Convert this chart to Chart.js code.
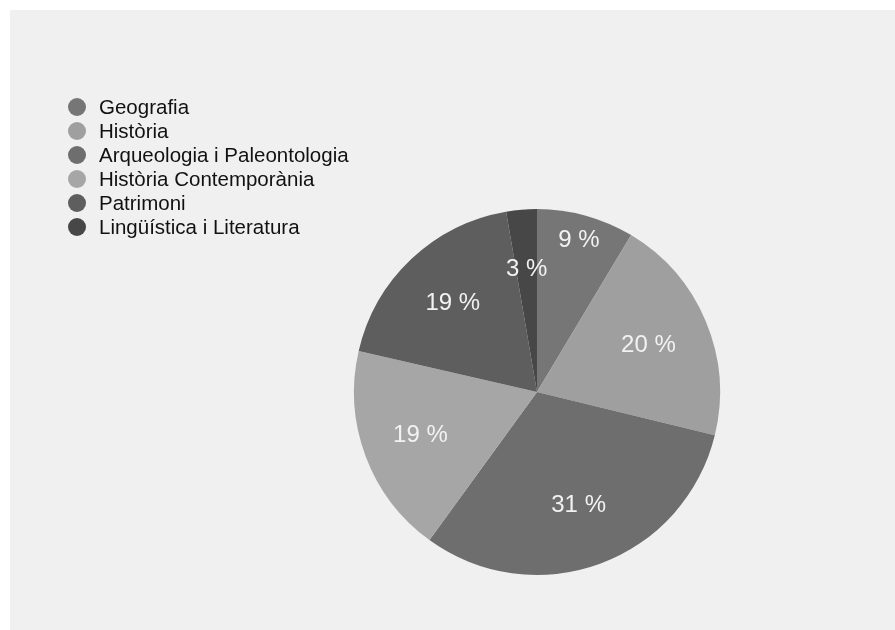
<!DOCTYPE html>
<html>
<head>
<meta charset="utf-8">
<script src="https://cdn.jsdelivr.net/npm/chart.js@4"></script>
<style>
	html, body { margin: 0; padding: 0; background: #ffffff; }
	#panel { position: absolute; left: 10px; top: 10px; width: 885px; height: 620px; background: #f0f0f0; }
	#chart { display: block; }
</style>
</head>
<body>
<div id="panel"><canvas id="chart" width="885" height="620"></canvas></div>
<script>
	// àrees temàtiques i percentatge de cada una (llegit del gràfic)
	let categories = ["Geografia", "Història", "Arqueologia i Paleontologia", "Història Contemporània", "Patrimoni", "Lingüística i Literatura"];
	let shares = [8.6, 20.2, 31.2, 18.6, 18.7, 2.7];
	let colors = ["#767676", "#9f9f9f", "#6e6e6e", "#a6a6a6", "#5e5e5e", "#474747"];

	// etiquetes de percentatge dins de cada porció
	let sliceLabels = {
		id: 'sliceLabels',
		afterDatasetsDraw(chart, args, opts) {
			let ctx = chart.ctx;
			let meta = chart.getDatasetMeta(0);
			ctx.save();
			ctx.font = opts.font;
			ctx.fillStyle = opts.color;
			ctx.textAlign = 'center';
			ctx.textBaseline = 'middle';
			meta.data.forEach((arc, i) => {
				let p = arc.getProps(['x', 'y', 'startAngle', 'endAngle', 'outerRadius']);
				let mid = (p.startAngle + p.endAngle) / 2;
				let r = p.outerRadius * opts.radius[i];
				let value = chart.data.datasets[0].data[i];
				ctx.fillText(Math.round(value) + ' %', p.x + Math.cos(mid) * r, p.y + Math.sin(mid) * r);
			});
			ctx.restore();
		}
	};

	// llegenda a dalt a l'esquerra, fora de l'àrea del pastís
	let sideLegend = {
		id: 'sideLegend',
		afterDraw(chart, args, opts) {
			let ctx = chart.ctx;
			let bg = chart.data.datasets[0].backgroundColor;
			ctx.save();
			ctx.font = opts.font;
			ctx.textBaseline = 'middle';
			chart.data.labels.forEach((label, i) => {
				let y = opts.top + i * opts.lineHeight;
				ctx.fillStyle = bg[i];
				ctx.beginPath();
				ctx.arc(opts.left, y, opts.dot, 0, Math.PI * 2);
				ctx.fill();
				ctx.fillStyle = opts.color;
				ctx.fillText(label, opts.left + opts.textGap, y + 1);
			});
			ctx.restore();
		}
	};

	new Chart(document.getElementById("chart").getContext('2d'), {
		type: "pie",
		data: {
			labels: categories,
			datasets: [{
				data: shares,
				backgroundColor: colors,
				borderWidth: 0,
				hoverOffset: 0
			}]
		},
		options: {
			responsive: false,
			animation: false,
			events: [],
			layout: {
				padding: { left: 344, right: 175, top: 199, bottom: 55 }
			},
			plugins: {
				legend: { display: false },
				tooltip: { enabled: false },
				sliceLabels: {
					font: '24px "Liberation Sans", Arial, sans-serif',
					color: '#f2f2f2',
					radius: [0.86, 0.66, 0.66, 0.68, 0.67, 0.67]
				},
				sideLegend: {
					font: '20.5px "Liberation Sans", Arial, sans-serif',
					color: '#111111',
					left: 67,
					top: 97,
					lineHeight: 24,
					dot: 9,
					textGap: 22
				}
			}
		},
		plugins: [sliceLabels, sideLegend]
	});
</script>
</body>
</html>
